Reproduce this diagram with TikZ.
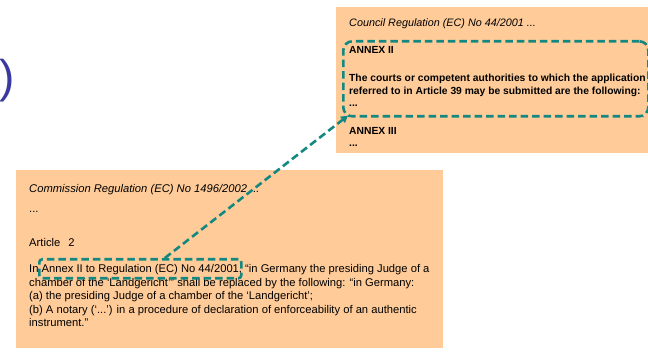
\documentclass[tikz,border=0pt]{standalone}
\usepackage{fontspec}
\setmainfont{Liberation Sans}
\usetikzlibrary{calc,arrows.meta}
\definecolor{boxfill}{HTML}{FFCC99}
\definecolor{tealdash}{HTML}{138880}
\definecolor{parblue}{HTML}{3A3A9E}
\begin{document}
\begin{tikzpicture}[x=1pt,y=-1pt,
  panel/.style={fill=boxfill, draw=none, anchor=north west, inner sep=0pt},
  txt/.style={anchor=base west, inner sep=0pt, align=left},
  toptxt/.style={txt, font=\fontsize{10.3}{12.5}\selectfont\bfseries},
  bottxt/.style={txt, font=\fontsize{11.2}{13.5}\selectfont},
  hlbox/.style={draw=tealdash, line width=2.6pt, dash pattern=on 7.5pt off 4pt, anchor=north west, inner sep=0pt},
  link/.style={draw=tealdash, line width=2.6pt, dash pattern=on 7.5pt off 4pt, -{Triangle[length=7pt,width=7.5pt]}}]
\useasboundingbox (0,0) rectangle (648,352);
% left parenthesis fragment
\node[inner sep=0pt, text=parblue, font=\fontsize{46}{46}\selectfont] (paren) at (7,81) {)};
% panels
\node[panel, minimum width=312pt, minimum height=146pt] (toppanel) at (336,7) {};
\node[panel, minimum width=427pt, minimum height=178pt] (botpanel) at (16,170) {};
% top panel texts (base = baseline of last line)
\node[txt, font=\fontsize{10.8}{12.5}\selectfont\itshape] (t1) at (349,27) {Council Regulation (EC) No 44/2001 ...};
\node[toptxt] (t2) at (349,54) {ANNEX II};
\node[toptxt] (t3) at (349,107) {The courts or competent authorities to which the application\\referred to in Article 39 may be submitted are the following:\\...};
\node[toptxt] (t4) at (349,147) {ANNEX III\\...};
% bottom panel texts
\node[txt, font=\fontsize{11.2}{13.5}\selectfont\itshape] (b1) at (29,193) {Commission Regulation (EC) No 1496/2002 ...};
\node[bottxt] (b2) at (29,213) {...};
\node[bottxt] (b3) at (29,247) {Article\hspace{8pt}2};
\node[bottxt] (b4) at (29,327) {In Annex II to Regulation (EC) No 44/2001, “in Germany the presiding Judge of a\\chamber of the ‘Landgericht’” shall be replaced by the following: “in Germany:\\(a) the presiding Judge of a chamber of the ‘Landgericht’;\\(b) A notary (‘...’) in a procedure of declaration of enforceability of an authentic\\instrument.”};
% highlight boxes
\node[hlbox, rounded corners=9pt, minimum width=305pt, minimum height=75pt] (hltop) at (342,40) {};
\node[hlbox, rounded corners=3pt, minimum width=202pt, minimum height=19pt] (hlbot) at (38,258) {};
% connector
\draw[link] ($(hlbot.north west)!0.62!(hlbot.north east)$) -- ($(hltop.south west)+(6,-2)$);
\end{tikzpicture}
\end{document}
